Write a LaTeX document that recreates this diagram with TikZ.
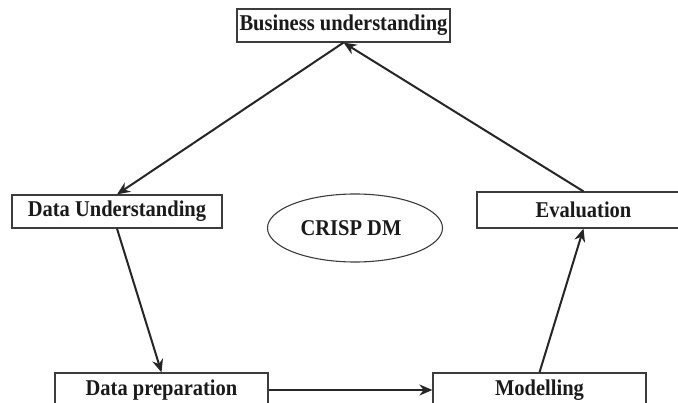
\documentclass[tikz,border=0pt]{standalone}
\usepackage{fontspec}
\setmainfont{Liberation Serif}
\usetikzlibrary{shapes.geometric,arrows.meta}
\definecolor{boxc}{HTML}{3C3C3C}
\definecolor{arrc}{HTML}{262626}
\definecolor{txtc}{HTML}{1A1A1A}
\newcommand{\tallt}[1]{\scalebox{1}[1.1]{#1}}
\tikzset{
  stagebox/.style={draw=boxc, line width=1.2pt, minimum width=213pt, inner sep=0pt,
    font=\fontsize{20.5}{22}\selectfont\bfseries, text=txtc},
  hubell/.style={draw=boxc, line width=1.1pt, ellipse, minimum width=175pt, minimum height=68pt, inner sep=0pt,
    font=\fontsize{20.5}{22}\selectfont\bfseries, text=txtc},
  arr/.style={draw=arrc, line width=2pt, -{Stealth[length=13pt,width=11pt]}}
}
\begin{document}
\begin{tikzpicture}[x=1pt,y=-1pt]
\useasboundingbox (0,0) rectangle (678,403);
\fill[white] (0,0) rectangle (678,403);
\node[stagebox, minimum height=33pt] (bu) at (343.5,25.5) {\tallt{Business understanding}};
\node[stagebox, minimum height=33pt, minimum width=210pt] (du) at (117,211.5) {\tallt{Data Understanding}};
\node[stagebox, minimum height=36pt] (ev) at (583.5,210) {\tallt{Evaluation}};
\node[stagebox, minimum height=34pt] (dp) at (161.5,390) {\tallt{Data preparation}};
\node[stagebox, minimum height=34pt] (mo) at (539.5,390) {\tallt{Modelling}};
\node[hubell] (hub) at (355,228) {\hspace*{-8pt}\tallt{CRISP DM}};
\draw[arr] (ev.north) -- (bu.south);
\draw[arr] (bu.south) -- (du.north);
\draw[arr] (du.south) -- (dp.north);
\draw[arr] (dp.east) -- (mo.west);
\draw[arr] (mo.north) -- (ev.south);
\end{tikzpicture}
\end{document}
